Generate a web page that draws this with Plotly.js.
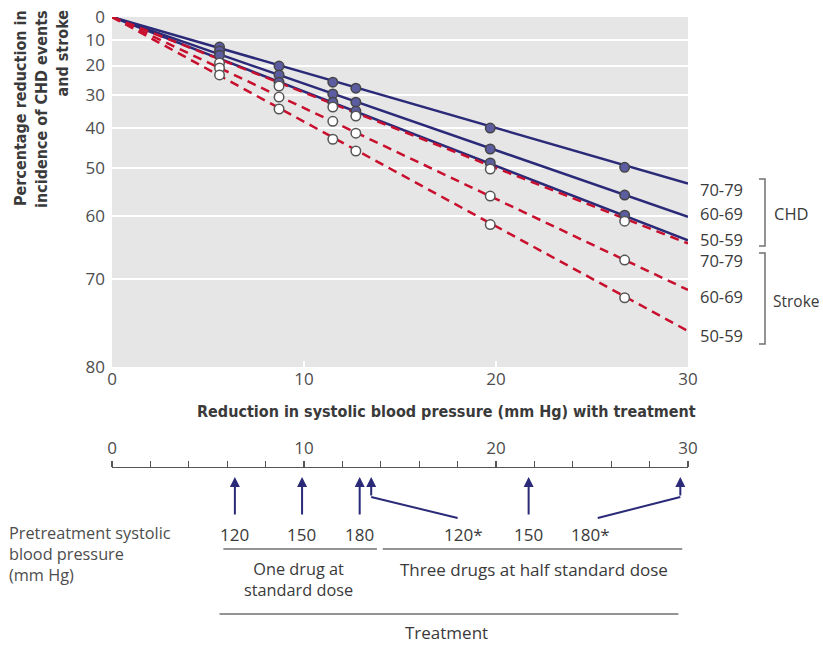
<!DOCTYPE html>
<html>
<head>
<meta charset="utf-8">
<script src="https://cdn.plot.ly/plotly-3.0.1.min.js"></script>
<style>html,body{margin:0;padding:0;background:#fff;}#chart{width:823px;height:645px;}</style>
</head>
<body>
<div id="chart"></div>
<script>
// ---- data (percentage reduction in incidence) ----
const markerX = [5.6, 8.7, 11.5, 12.7, 19.7, 26.7];
const lineX = [0, 30];
const chd7079 = [12.9, 20.2, 25.9, 27.9, 40.0, 49.9];
const chd6069 = [14.5, 23.4, 29.8, 32.4, 45.5, 55.9];
const chd5059 = [16.1, 25.9, 32.4, 35.1, 48.9, 59.8];
const stroke7079 = [19.1, 27.2, 33.9, 36.6, 50.3, 60.9];
const stroke6069 = [20.9, 30.8, 38.1, 41.4, 56.1, 67.3];
const stroke5059 = [23.4, 34.5, 43.0, 46.0, 61.5, 72.5];
// line end values at 30 mm Hg (lines start at 0)
const chdLine7079 = [0, 53.5];
const chdLine6069 = [0, 60.1];
const chdLine5059 = [0, 64.2];
const strokeLine7079 = [0, 64.7];
const strokeLine6069 = [0, 71.5];
const strokeLine5059 = [0, 76.4];
const yTickReduction = [0, 10, 20, 30, 40, 50, 60, 70, 80];
const xTicks = [0, 10, 20, 30];
const scaleTicks = [0,2,4,6,8,10,12,14,16,18,20,22,24,26,28,30];
const scaleTickText = ['0','','','','','10','','','','','20','','','','','30'];
const ageGroups = ['70-79', '60-69', '50-59'];
// pretreatment SBP arrows (position on the lower scale)
const arrowX = [6.4, 9.9, 12.9, 13.5, 21.7, 29.6];
const bpLabels = ['120', '150', '180', '120*', '150', '180*'];
const bpLabelX = [6.4, 9.85, 12.9, 18.3, 21.7, 24.9];

const toRR = a => a.map(r => 100 - r);

const NAVY = '#2a2a78', RED = '#c8102e';
const GRAY_TXT = '#4d4d4d';
const FONT = 'Open Sans, Noto Sans, sans-serif';
const BOLD = 'DejaVu Sans Condensed, DejaVu Sans, sans-serif';
const FS = 17;

// layout geometry helpers (pixel -> paper)
const ML = 112, MR = 135, MT = 17, MB = 0, W = 823, H = 645;
const PW = W - ML - MR, PH = H - MT - MB;
const px = x => (x - ML) / PW;
const py = y => (H - MB - y) / PH;

const traces = [];
function lineTrace(vals, color, dash) {
  traces.push({x: lineX, y: toRR(vals), mode: 'lines', type: 'scatter',
    line: {color: color, width: 2.5, dash: dash}, hoverinfo: 'skip', showlegend: false});
}
function markerTrace(vals, fill, lineCol) {
  traces.push({x: markerX, y: toRR(vals), mode: 'markers', type: 'scatter',
    marker: {size: 9.5, color: fill, line: {color: lineCol, width: 1.5}}, showlegend: false});
}
lineTrace(chdLine7079, NAVY, 'solid');
lineTrace(chdLine6069, NAVY, 'solid');
lineTrace(chdLine5059, NAVY, 'solid');
lineTrace(strokeLine7079, RED, '9px,6px');
lineTrace(strokeLine6069, RED, '9px,6px');
lineTrace(strokeLine5059, RED, '9px,6px');
[chd7079, chd6069, chd5059].forEach(v => markerTrace(v, '#5c5ca0', '#454545'));
[stroke7079, stroke6069, stroke5059].forEach(v => markerTrace(v, '#ffffff', '#555555'));
// invisible trace to activate lower scale
traces.push({x: [0, 30], y: [0, 0], xaxis: 'x2', yaxis: 'y2', mode: 'markers',
  marker: {opacity: 0}, hoverinfo: 'skip', showlegend: false});

const annotations = [];
const shapes = [];

// plot background
shapes.push({type: 'rect', xref: 'x domain', yref: 'y domain', x0: 0, x1: 1, y0: 0, y1: 1,
  fillcolor: '#e6e6e6', line: {width: 0}, layer: 'below'});

// y-axis title (three rotated lines)
[['Percentage reduction in', 20], ['incidence of CHD events', 41], ['and stroke', 62]].forEach(([t, x]) => {
  annotations.push({text: '<b>' + t + '</b>', xref: 'paper', yref: 'paper', x: px(x), y: py(9),
    xanchor: 'center', yanchor: 'top', textangle: -90, showarrow: false, borderpad: 0,
    font: {family: BOLD, size: 16, color: '#3a3a3a'}});
});
// x-axis title
annotations.push({text: '<b>Reduction in systolic blood pressure (mm Hg) with treatment</b>',
  xref: 'paper', yref: 'paper', x: px(446), y: py(411), xanchor: 'center', yanchor: 'middle',
  showarrow: false, font: {family: BOLD, size: 16, color: '#3a3a3a'}});

// right-side age labels
const rightY = [189, 213, 239.5, 260, 296, 335];
rightY.forEach((y, i) => {
  annotations.push({text: ageGroups[i % 3], xref: 'paper', yref: 'paper', x: px(699), y: py(y),
    xanchor: 'left', yanchor: 'middle', showarrow: false, borderpad: 0,
    font: {family: FONT, size: 16.5, color: '#3a3a3a'}});
});
annotations.push({text: 'CHD', xref: 'paper', yref: 'paper', x: px(773), y: py(213),
  xanchor: 'left', yanchor: 'middle', showarrow: false, borderpad: 0, font: {family: FONT, size: 16.5, color: '#3a3a3a'}});
annotations.push({text: 'Stroke', xref: 'paper', yref: 'paper', x: px(772), y: py(301),
  xanchor: 'left', yanchor: 'middle', showarrow: false, borderpad: 0, font: {family: FONT, size: 15.5, color: '#3a3a3a'}});
// brackets
[[179, 246], [253, 344]].forEach(([a, b]) => {
  shapes.push({type: 'path', xref: 'paper', yref: 'paper',
    path: `M${px(759)},${py(a)} L${px(765)},${py(a)} L${px(765)},${py(b)} L${px(759)},${py(b)}`,
    line: {color: '#707070', width: 1.5}});
});

// arrows on lower scale
const tipY = py(477), tailStraight = 39, tailBent = 20;
arrowX.forEach((x, i) => {
  const bent = (i === 3 || i === 5);
  annotations.push({text: '', xref: 'x2', yref: 'paper', x: x, y: tipY, ax: 0,
    ay: bent ? tailBent : tailStraight, showarrow: true, arrowhead: 2, arrowsize: 1,
    arrowwidth: 2, arrowcolor: NAVY});
});
// bent arrow tails
[[13.5, 18.0], [29.6, 25.3]].forEach(([x0, x1]) => {
  shapes.push({type: 'line', xref: 'x2', yref: 'paper', x0: x0, x1: x1, y0: py(497), y1: py(518),
    line: {color: NAVY, width: 2}});
});
// BP labels
bpLabels.forEach((t, i) => {
  annotations.push({text: t, xref: 'x2', yref: 'paper', x: bpLabelX[i], y: py(534),
    xanchor: 'center', yanchor: 'middle', showarrow: false, font: {family: FONT, size: FS, color: '#3a3a3a'}});
});
// Pretreatment text
annotations.push({text: 'Pretreatment systolic<br>blood pressure<br>(mm Hg)', xref: 'paper', yref: 'paper',
  x: px(8), y: py(554), xanchor: 'left', yanchor: 'middle', align: 'left', showarrow: false, borderpad: 0,
  font: {family: FONT, size: 16.3, color: GRAY_TXT}});
// underline groups
shapes.push({type: 'line', xref: 'x2', yref: 'paper', x0: 5.8, x1: 13.8, y0: py(549), y1: py(549), line: {color: '#707070', width: 1.5}});
shapes.push({type: 'line', xref: 'x2', yref: 'paper', x0: 14.1, x1: 29.7, y0: py(549), y1: py(549), line: {color: '#707070', width: 1.5}});
shapes.push({type: 'line', xref: 'x2', yref: 'paper', x0: 5.6, x1: 29.5, y0: py(614), y1: py(614), line: {color: '#707070', width: 1.5}});
annotations.push({text: 'One drug at<br>standard dose', xref: 'x2', yref: 'paper', x: 9.7, y: py(579),
  xanchor: 'center', yanchor: 'middle', showarrow: false, borderpad: 0,
  font: {family: FONT, size: 16.3, color: '#3a3a3a'}});
[['Three drugs at half standard dose', 22.0, 569], ['Treatment', 17.4, 632]].forEach(([t, x, y]) => {
  annotations.push({text: t, xref: 'x2', yref: 'paper', x: x, y: py(y),
    xanchor: 'center', yanchor: 'middle', showarrow: false, font: {family: FONT, size: FS, color: '#3a3a3a'}});
});

const layout = {
  width: W, height: H,
  margin: {l: ML, r: MR, t: MT, b: MB},
  paper_bgcolor: '#ffffff', plot_bgcolor: 'rgba(0,0,0,0)',
  showlegend: false,
  font: {family: FONT, color: GRAY_TXT},
  xaxis: {domain: [0, 1], range: [0, 30], anchor: 'y', tickvals: xTicks, ticktext: xTicks.map(String),
    showgrid: false, zeroline: false, showline: false, ticks: 'inside', ticklen: 6, tickwidth: 2,
    tickcolor: '#ffffff', tickfont: {size: FS, color: GRAY_TXT}, fixedrange: true},
  yaxis: {domain: [py(367), 1], type: 'log', range: [Math.log10(20), 2], anchor: 'x',
    tickvals: yTickReduction.map(r => 100 - r), ticktext: yTickReduction.map(String),
    showgrid: true, gridcolor: '#ffffff', gridwidth: 2, zeroline: false, showline: false,
    ticks: '', ticklabelstandoff: 6, tickfont: {size: FS, color: GRAY_TXT}, fixedrange: true},
  xaxis2: {domain: [0, 1], range: [0, 30], anchor: 'y2', side: 'top', tickvals: scaleTicks, ticktext: scaleTickText,
    showline: true, linecolor: '#555', linewidth: 1.5, ticks: 'outside', ticklen: 6, tickwidth: 1.2,
    tickcolor: '#555', showgrid: false, zeroline: false, tickfont: {size: FS, color: GRAY_TXT}, fixedrange: true},
  yaxis2: {domain: [0, py(468)], range: [0, 1], visible: false, fixedrange: true},
  shapes: shapes,
  annotations: annotations
};

Plotly.newPlot('chart', traces, layout, {displayModeBar: false, staticPlot: true});
</script>
</body>
</html>
